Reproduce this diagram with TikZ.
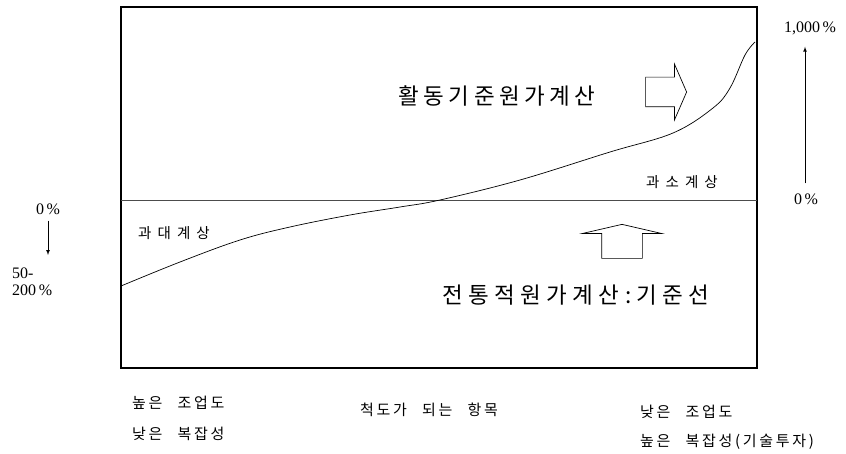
\documentclass[tikz,border=0pt]{standalone}
\usepackage{fontspec}
\setmainfont{Liberation Serif}
\newfontfamily\korbig[LetterSpace=20]{Noto Sans CJK KR}
\newfontfamily\kortrad[LetterSpace=24]{Noto Sans CJK KR}
\newfontfamily\korlab[LetterSpace=42]{Noto Sans CJK KR}
\newfontfamily\korsmall[LetterSpace=18,WordSpace=2.5]{Noto Sans CJK KR}
\usetikzlibrary{shapes.arrows}

\begin{document}
\begin{tikzpicture}[x=1pt,y=-1pt,
        title/.style={inner sep=0pt,font=\korbig\fontsize{22.5}{24}\selectfont},
        lab/.style={inner sep=0pt,font=\korlab\fontsize{14.5}{16}\selectfont},
        axis/.style={inner sep=0pt,anchor=west,font=\korsmall\fontsize{15}{17}\selectfont},
        pct/.style={inner sep=0pt,font=\fontsize{16}{17}\selectfont},
        blockarrow/.style={draw,single arrow,line width=0.7pt}]
    \useasboundingbox (0,0) rectangle (846,454);
    \draw[line width=2.5pt] (121,7) rectangle (757,368);
    \draw[gray!60!black,line width=0.7pt] (121,200) -- (757,200);
    \draw[line width=0.7pt] plot[smooth,tension=0.6] coordinates {(121,286) (180,262) (240,240) (290,227) (350,215) (400,207) (440,200) (520,180) (610,152) (673,133) (713,108) (730,88) (745,55) (755,42)};
    % methods
    \node[title] (abc) at (497,96) {활동기준원가계산};
    \node[blockarrow,inner xsep=0pt,inner ysep=14.5pt,minimum width=55pt,minimum height=41pt,
        single arrow head extend=13pt,single arrow tip angle=133,anchor=tip] (abcmark) at (687,92) {};
    \node[lab] (under) at (682,182) {과소계상};
    \node[lab] (over) at (174,233) {과대계상};
    \node[blockarrow,inner xsep=20pt,inner ysep=0pt,minimum width=79pt,minimum height=34pt,
        single arrow head extend=19.5pt,single arrow tip angle=154,shape border rotate=90,anchor=tip] (tradmark) at (622,224) {};
    \node[title,font=\kortrad\fontsize{22.5}{24}\selectfont] (trad) at (576,295) {전통적원가계산:기준선};
    % percent scales
    \node[pct] (lzero) at (48,209) {0\,\%};
    \node[pct,align=left,anchor=north west] (lmax) at (12,268) {50-\\200\,\%};
    \draw[-latex,line width=0.7pt,shorten <=6pt,shorten >=13pt] (lzero.south) -- (lzero.south |- lmax.north);
    \node[pct] (rmax) at (810,28) {1,000\,\%};
    \node[pct] (rzero) at (806,199) {0\,\%};
    \draw[-latex,line width=0.7pt,shorten <=10pt,shorten >=12pt] (rzero.north -| 805,0) -- (rmax.south -| 805,0);
    % bottom labels
    \node[axis] (hivol) at (132,403) {높은 조업도};
    \node[axis] (locx) at (132,434) {낮은 복잡성};
    \node[axis] (items) at (360,410) {척도가 되는 항목};
    \node[axis] (lovol) at (640,412) {낮은 조업도};
    \node[axis] (hicx) at (640,442) {높은 복잡성(기술투자)};
\end{tikzpicture}
\end{document}
